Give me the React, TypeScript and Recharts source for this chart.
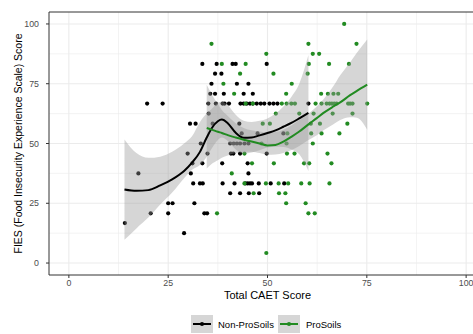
import {
  ComposedChart,
  Scatter,
  Line,
  Area,
  XAxis,
  YAxis,
  CartesianGrid,
  ReferenceArea,
} from "recharts";

// [Total CAET score, FIES score]
const nonProSoils: [number, number][] = [
  [33.6, 83.3], [37.2, 83.3], [41.2, 83.3], [42.0, 83.3], [49.8, 83.3],
  [36.8, 79.2], [38.4, 79.2],
  [35.9, 75], [42.3, 75], [45.2, 75],
  [35.6, 70.8], [36.8, 70.8], [39.0, 70.8], [44.0, 70.8], [46.3, 70.8],
  [19.7, 66.7], [23.6, 66.7], [35.1, 66.7], [37.0, 66.7], [38.7, 66.7], [39.2, 66.7],
  [40.3, 66.7], [43.2, 66.7], [44.0, 66.7], [44.8, 66.7], [45.6, 66.7], [46.3, 66.7],
  [47.3, 66.7], [48.3, 66.7], [49.2, 66.7], [50.5, 66.7], [51.5, 66.7], [52.5, 66.7],
  [60.3, 66.7],
  [35.2, 62.5],
  [30.5, 58.3], [31.9, 58.3], [36.2, 58.3], [42.9, 58.3],
  [43.5, 54.2], [47.5, 54.2], [54.0, 54.2],
  [33.2, 50], [40.6, 50], [41.5, 50], [42.3, 50], [43.1, 50], [44.2, 50], [45.2, 50],
  [29.9, 45.8], [34.9, 45.8], [40.8, 45.8], [41.4, 45.8], [43.1, 45.8], [49.8, 45.8],
  [31.1, 41.7], [33.6, 41.7], [38.6, 41.7], [45.0, 41.7],
  [17.5, 37.5], [30.7, 37.5], [45.2, 37.5],
  [31.3, 33.3], [33.0, 33.3], [33.7, 33.3], [38.7, 33.3], [41.7, 33.3], [44.4, 33.3],
  [45.0, 33.3], [45.6, 33.3], [46.1, 33.3], [47.8, 33.3], [50.8, 33.3], [54.2, 33.3],
  [40.6, 29.2], [43.1, 29.2], [45.3, 29.2], [47.9, 29.2],
  [25.0, 25], [26.1, 25], [31.6, 25],
  [20.6, 20.8], [25.0, 20.8], [34.1, 20.8], [34.8, 20.8],
  [14.1, 16.7],
  [29.0, 12.5],
];

const proSoils: [number, number][] = [
  [69.3, 100],
  [35.9, 91.7], [60.3, 91.7], [72.4, 91.7],
  [49.7, 87.5], [61.4, 87.5], [63.0, 87.5],
  [38.5, 83.3], [44.5, 83.3], [60.4, 83.3], [65.5, 83.3], [70.5, 83.3],
  [43.1, 79.2], [51.5, 79.2], [60.1, 79.2],
  [38.9, 75], [56.1, 75],
  [41.6, 70.8], [54.7, 70.8], [63.5, 70.8], [65.2, 70.8], [66.6, 70.8], [67.8, 70.8],
  [44.5, 66.7], [46.3, 66.7], [53.6, 66.7], [54.8, 66.7], [56.0, 66.7], [56.9, 66.7],
  [62.1, 66.7], [63.6, 66.7], [64.9, 66.7], [65.6, 66.7], [66.2, 66.7], [66.8, 66.7],
  [67.4, 66.7], [70.3, 66.7], [70.8, 66.7], [71.4, 66.7], [75.1, 66.7],
  [52.1, 62.5], [58.0, 62.5], [61.6, 62.5], [66.4, 62.5], [71.4, 62.5],
  [48.8, 58.3], [50.6, 58.3], [60.9, 58.3], [63.2, 58.3], [70.1, 58.3],
  [55.0, 54.2], [61.0, 54.2], [63.6, 54.2], [68.1, 54.2],
  [48.5, 50], [54.8, 50], [61.4, 50],
  [44.2, 45.8], [54.9, 45.8], [56.8, 45.8], [65.1, 45.8],
  [46.1, 41.7], [51.6, 41.7], [59.2, 41.7], [60.5, 41.7], [66.1, 41.7],
  [41.0, 37.5],
  [44.2, 33.3], [49.6, 33.3], [52.8, 33.3], [55.2, 33.3], [58.5, 33.3], [60.6, 33.3], [65.6, 33.3],
  [46.5, 29.2], [52.9, 29.2], [54.5, 29.2],
  [54.7, 25], [59.6, 25],
  [37.3, 20.8], [60.3, 20.8], [61.9, 20.8],
  [49.7, 4.2],
];

// loess fits with 95% bands
const fitX = [14, 17, 20, 23, 26, 29, 31, 33, 34.7, 36, 37.5, 38.5, 40, 42, 44, 46, 48, 50, 52, 54, 56, 58, 60.3, 62.4, 64.1, 66.6, 68.3, 70.8, 72.5, 75.1];
const nonProFit = [30.8, 30.2, 30.5, 32.5, 35, 38.5, 42, 46.5, 52.5, 56.5, 59.3, 60, 58.5, 54.5, 52.4, 52.5, 53.4, 54.4, 55.5, 57, 58.6, 60.5, 62.8, null, null, null, null, null, null, null];
const nonProHi = [51.7, 46, 44, 44.5, 46.5, 50, 53, 59, 62.5, 64.5, 67, 67.5, 66, 62, 59.5, 59, 59.5, 60.5, 62.5, 65.5, 69.5, 75, 87, null, null, null, null, null, null, null];
const nonProLo = [9.7, 14.5, 19, 24.5, 29.5, 35.5, 39, 41, 44.5, 48, 51.5, 52.5, 51, 47.5, 45.8, 46.2, 47.2, 48.3, 48.6, 48.5, 47.5, 45.5, 38.5, null, null, null, null, null, null, null];
const proFit = [null, null, null, null, null, null, null, null, 56.5, 55.8, 54.9, 54.4, 53.5, 52.5, 51.6, 50.8, 50, 49.2, 49.4, 50.8, 52.8, 55, 58, 60.6, 62.8, 65.5, 67.2, 70.2, 72, 74.6];
const proHi = [null, null, null, null, null, null, null, null, 74.6, 70.5, 66.5, 64, 61.5, 58.5, 56.5, 55.5, 55, 54.5, 54.8, 55.8, 57.5, 59.8, 62.5, 65.5, 68.5, 74, 78.5, 84, 88, 93.5];
const proLo = [null, null, null, null, null, null, null, null, 39.5, 41.5, 43, 44, 45, 46, 46.5, 46.6, 46, 45.3, 45.4, 46, 47.3, 49, 51.5, 53.5, 55.5, 58, 59.8, 61, 60.8, 55.8];

const ticks = [0, 25, 50, 75, 100];
const minorTicks = [12.5, 37.5, 62.5, 87.5];

const BLACK = "#000000";
const GREEN = "#228B22";
const FONT = '"Liberation Sans", Arial, Helvetica, sans-serif';

const fitRows = fitX.map((x, i) => ({
  x,
  nonFit: nonProFit[i],
  nonBand: nonProLo[i] != null ? [nonProLo[i], nonProHi[i]] : null,
  proFit: proFit[i],
  proBand: proLo[i] != null ? [proLo[i], proHi[i]] : null,
}));

const toPoints = (pts: [number, number][]) => pts.map(([x, y]) => ({ x, y }));

const dot = (color: string) => (props: any) =>
  props.cx == null ? <g /> : <circle cx={props.cx} cy={props.cy} r={2.1} fill={color} />;

function LegendKey({ color }: { color: string }) {
  return (
    <svg width={22} height={18} style={{ display: "block", background: "#D6D6D6" }}>
      <line x1={2} y1={9} x2={20} y2={9} stroke={color} strokeWidth={2} />
      <circle cx={11} cy={9} r={2.1} fill={color} />
    </svg>
  );
}

export default function App() {
  return (
    <div
      style={{
        position: "absolute",
        left: 0,
        top: 0,
        width: 473,
        height: 334,
        overflow: "hidden",
        background: "#fff",
        fontFamily: FONT,
      }}
    >
      <ComposedChart
        width={500}
        height={334}
        data={fitRows}
        margin={{ top: 12, right: 14, bottom: 39, left: 0 }}
      >
        <CartesianGrid stroke="#EBEBEB" strokeWidth={0.6} horizontalValues={minorTicks} verticalValues={minorTicks} />
        <CartesianGrid stroke="#EBEBEB" strokeWidth={1.1} horizontalValues={ticks} verticalValues={ticks} />
        <XAxis
          type="number"
          dataKey="x"
          domain={[-5, 105]}
          ticks={ticks}
          interval={0}
          height={20}
          axisLine={false}
          tickLine={{ stroke: "#333333" }}
          tickSize={3}
          tickMargin={2}
          tick={{ fill: "#4D4D4D", fontSize: 8.8, fontFamily: FONT }}
          label={{ value: "Total CAET Score", position: "bottom", offset: -4, fill: "#000", fontSize: 11, fontFamily: FONT }}
        />
        <YAxis
          type="number"
          dataKey="y"
          domain={[-5, 105]}
          ticks={ticks}
          interval={0}
          width={49}
          axisLine={false}
          tickLine={{ stroke: "#333333" }}
          tickSize={3}
          tickMargin={7}
          tick={{ fill: "#4D4D4D", fontSize: 8.8, fontFamily: FONT }}
          label={{
            content: (p: any) => {
              const vb = p.viewBox || { x: 0, y: 12, height: 263 };
              const cx = vb.x + 18;
              const cy = vb.y + vb.height / 2;
              return (
                <text
                  x={cx}
                  y={cy}
                  transform={`rotate(-90 ${cx} ${cy})`}
                  textAnchor="middle"
                  dominantBaseline="central"
                  fontSize={10.5}
                  fontFamily={FONT}
                  fill="#000"
                >
                  FIES (Food Insecurity Experience Scale) Score
                </text>
              );
            },
          }}
        />
        <Scatter data={toPoints(nonProSoils)} dataKey="y" shape={dot(BLACK)} isAnimationActive={false} />
        <Scatter data={toPoints(proSoils)} dataKey="y" shape={dot(GREEN)} isAnimationActive={false} />
        <Area
          type="monotone"
          dataKey="nonBand"
          stroke="none"
          fill="#999999"
          fillOpacity={0.4}
          connectNulls
          isAnimationActive={false}
          {...({ zIndex: 650 } as any)}
        />
        <Area
          type="monotone"
          dataKey="proBand"
          stroke="none"
          fill="#999999"
          fillOpacity={0.4}
          connectNulls
          isAnimationActive={false}
          {...({ zIndex: 650 } as any)}
        />
        <Line type="monotone" dataKey="nonFit" stroke={BLACK} strokeWidth={2} dot={false} connectNulls isAnimationActive={false} {...({ zIndex: 700 } as any)} />
        <Line type="monotone" dataKey="proFit" stroke={GREEN} strokeWidth={2} dot={false} connectNulls isAnimationActive={false} {...({ zIndex: 700 } as any)} />
        <ReferenceArea x1={-5} x2={105} y1={-5} y2={105} fill="none" stroke="#333333" strokeWidth={1} />
      </ComposedChart>
      <div
        style={{
          position: "absolute",
          left: 191,
          top: 315,
          display: "flex",
          alignItems: "center",
          fontSize: 9.5,
          color: "#000",
        }}
      >
        <LegendKey color={BLACK} />
        <span style={{ marginLeft: 5, marginRight: 4 }}>Non-ProSoils</span>
        <LegendKey color={GREEN} />
        <span style={{ marginLeft: 6 }}>ProSoils</span>
      </div>
    </div>
  );
}
